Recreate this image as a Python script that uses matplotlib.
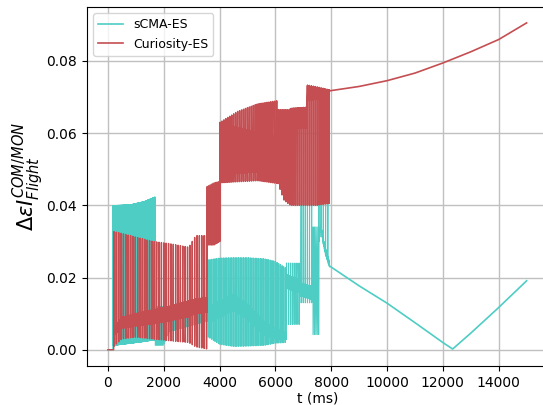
import numpy as np
import matplotlib
matplotlib.use('Agg')
import matplotlib.pyplot as plt

# ---- values (t in ms) ----
TEAL = '#4ecdc4'
RED = '#c44e52'

# Curiosity-ES
cur_flat_t = [0, 210]
cur_flat_y = [0.0, 0.0]

cur1_t = [220, 500, 1000, 1600, 2200, 2900, 3150, 3560]
cur1_top = [0.0327, 0.0322, 0.0312, 0.0300, 0.0294, 0.0284, 0.0316, 0.0316]
cur1_bot = [0.0010, 0.0030, 0.0035, 0.0030, 0.0025, 0.0020, 0.0008, 0.0002]
cur1_band_hi = [0.0060, 0.0089, 0.0100, 0.0110, 0.0120, 0.0135, 0.0140, 0.0145]
cur1_band_lo = [0.0040, 0.0060, 0.0066, 0.0072, 0.0080, 0.0092, 0.0100, 0.0104]

cur2_t = [3560, 3800, 4020]
cur2_top = [0.0452, 0.0462, 0.0466]
cur2_bot = [0.0290, 0.0290, 0.0300]

cur3_t = [4020, 4650, 5370, 6100]
cur3_top = [0.0630, 0.0660, 0.0681, 0.0690]
cur3_bot = [0.0462, 0.0465, 0.0468, 0.0460]
cur3_band_hi = [0.0628, 0.0615, 0.0600, 0.0590]
cur3_band_lo = [0.0485, 0.0490, 0.0492, 0.0488]

cur4_t = [6100, 6300, 6500, 6550, 7130]
cur4_top = [0.0665, 0.0665, 0.0665, 0.0668, 0.0672]
cur4_bot = [0.0460, 0.0415, 0.0402, 0.0400, 0.0400]
cur4_band_hi = [0.0660, 0.0655, 0.0655, 0.0668, 0.0670]
cur4_band_lo = [0.0580, 0.0560, 0.0550, 0.0615, 0.0615]

cur5_t = [7150, 7500, 7940]
cur5_top = [0.0733, 0.0728, 0.0720]
cur5_bot = [0.0400, 0.0400, 0.0405]
cur5_band_hi = [0.0730, 0.0725, 0.0718]
cur5_band_lo = [0.0690, 0.0695, 0.0700]

cur_tail_t = [7950, 9000, 10000, 11000, 12000, 13000, 14000, 15000]
cur_tail_y = [0.0717, 0.0729, 0.0745, 0.0766, 0.0794, 0.0825, 0.0859, 0.0905]

# sCMA-ES
scma_flat_t = [0, 180]
scma_flat_y = [0.0, 0.0]

scma1_t = [180, 800, 1300, 1700]
scma1_top = [0.0399, 0.0401, 0.0410, 0.0423]
scma1_bot = [0.0012, 0.0018, 0.0023, 0.0028]

scma2_t = [1700, 2000, 2200, 3600]
scma2_top = [0.012, 0.012, 0.011, 0.013]
scma2_bot = [0.0012, 0.0012, 0.0050, 0.0080]

scma3_t = [3600, 4000, 4500, 5000, 5600, 6000, 6400]
scma3_top = [0.0249, 0.0254, 0.0255, 0.0255, 0.0252, 0.0245, 0.0225]
scma3_bot = [0.0035, 0.0015, 0.0009, 0.0010, 0.0012, 0.0018, 0.0020]
scma3_band_hi = [0.0116, 0.0135, 0.0152, 0.0125, 0.0078, 0.0058, 0.0047]
scma3_band_lo = [0.0075, 0.0090, 0.0110, 0.0085, 0.0040, 0.0032, 0.0028]

scma4_t = [6400, 6850, 6860, 7350]
scma4_top = [0.0240, 0.0240, 0.0400, 0.0400]
scma4_bot = [0.0070, 0.0070, 0.0130, 0.0130]
scma4_band_hi = [0.0208, 0.0195, 0.0185, 0.0175]
scma4_band_lo = [0.0170, 0.0158, 0.0150, 0.0138]

scma5_t = [7350, 7560]
scma5_top = [0.0340, 0.0340]
scma5_bot = [0.0042, 0.0042]

scma6_t = [7560, 7630, 7700, 7800, 7940]
scma6_top = [0.0410, 0.0410, 0.0410, 0.0408, 0.0405]
scma6_bot = [0.0300, 0.0340, 0.0305, 0.0270, 0.0235]
scma6_band_hi = [0.0310, 0.0348, 0.0315, 0.0280, 0.0245]
scma6_band_lo = [0.0290, 0.0335, 0.0298, 0.0262, 0.0228]

scma_tail_t = [7960, 9000, 10000, 11000, 12000, 12350, 13000, 14000, 15000]
scma_tail_y = [0.0231, 0.0177, 0.0129, 0.0075, 0.0020, 0.0002, 0.0046, 0.0117, 0.0191]


def burst(knots, top, bot, period, band_hi=None, band_lo=None, step=10):
    """Oscillating stretch: vertical spikes top->bot every `period` ms,
    optionally riding on a dense band between band_lo and band_hi"""
    ts = np.arange(knots[0], knots[-1], period, dtype=float)
    hi = np.interp(ts, knots, top)
    lo = np.interp(ts, knots, bot)
    xs = np.column_stack([ts, ts + 1]).ravel()
    ys = np.column_stack([hi, lo]).ravel()
    if band_hi is None:
        return xs, ys
    tb = np.arange(knots[0] + step / 2, knots[-1], step, dtype=float)
    bh = np.interp(tb, knots, band_hi)
    bl = np.interp(tb, knots, band_lo)
    yb = np.where(np.arange(len(tb)) % 2 == 0, bh, bl)
    x = np.concatenate([xs, tb])
    y = np.concatenate([ys, yb])
    order = np.argsort(x, kind='stable')
    return x[order], y[order]


scma_parts = [
    (np.array(scma_flat_t, float), np.array(scma_flat_y)),
    burst(scma1_t, scma1_top, scma1_bot, 8),
    burst(scma2_t, scma2_top, scma2_bot, 40),
    burst(scma3_t, scma3_top, scma3_bot, 60, scma3_band_hi, scma3_band_lo),
    burst(scma4_t, scma4_top, scma4_bot, 75, scma4_band_hi, scma4_band_lo),
    burst(scma5_t, scma5_top, scma5_bot, 50),
    burst(scma6_t, scma6_top, scma6_bot, 80, scma6_band_hi, scma6_band_lo),
]
cur_parts = [
    (np.array(cur_flat_t, float), np.array(cur_flat_y)),
    burst(cur1_t, cur1_top, cur1_bot, 85, cur1_band_hi, cur1_band_lo, 12),
    burst(cur2_t, cur2_top, cur2_bot, 50),
    burst(cur3_t, cur3_top, cur3_bot, 70, cur3_band_hi, cur3_band_lo),
    burst(cur4_t, cur4_top, cur4_bot, 70, cur4_band_hi, cur4_band_lo),
    burst(cur5_t, cur5_top, cur5_bot, 70, cur5_band_hi, cur5_band_lo),
]

scma_x = np.concatenate([p[0] for p in scma_parts] + [scma_tail_t[:1]])
scma_y = np.concatenate([p[1] for p in scma_parts] + [scma_tail_y[:1]])
cur_x = np.concatenate([p[0] for p in cur_parts] + [cur_tail_t[:1]])
cur_y = np.concatenate([p[1] for p in cur_parts] + [cur_tail_y[:1]])

fig = plt.figure(figsize=(5.43, 4.05), dpi=100)
ax = fig.add_axes([0.160, 0.0963, 0.8484, 0.8864])

ax.plot(scma_x, scma_y, color=TEAL, lw=0.8)
ax.plot(scma_tail_t, scma_tail_y, color=TEAL, lw=1.2, label='sCMA-ES')
ax.plot(cur_x, cur_y, color=RED, lw=1.0)
ax.plot(cur_tail_t, cur_tail_y, color=RED, lw=1.2, label='Curiosity-ES')

ax.set_xlim(-750, 15750)
ax.set_ylim(-0.0045, 0.0949)
ax.set_yticks([0.0, 0.02, 0.04, 0.06, 0.08])
ax.set_xticks(np.arange(0, 15000, 2000))
ax.grid(True, color='#c0c0c0', lw=1.0)
ax.set_axisbelow(True)
ax.set_xlabel('t (ms)', labelpad=1)
ax.set_ylabel(r'$\Delta\varepsilon I^{COM/MON}_{Flight}$', fontsize=15)
ax.yaxis.set_label_coords(-0.089, 0.528)
ax.legend(loc='upper left', fontsize=9)

fig.savefig('out.png', dpi=100)
